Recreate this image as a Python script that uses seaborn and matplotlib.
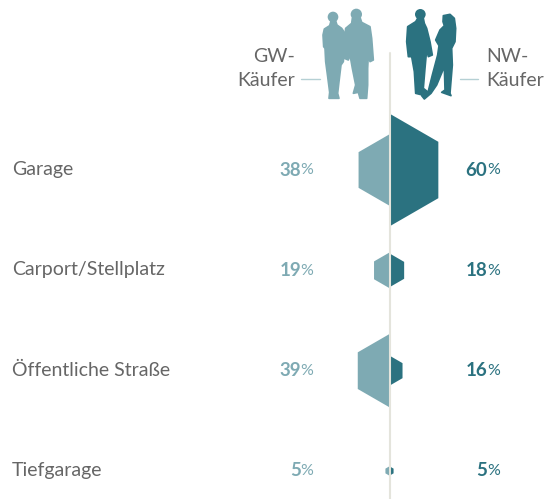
import matplotlib
matplotlib.use('Agg')
import numpy as np
import pandas as pd
import matplotlib.pyplot as plt
import seaborn as sns
from matplotlib.path import Path
from matplotlib.patches import Circle, Polygon
from matplotlib.transforms import Affine2D

# Data
places = ['Garage', 'Carport/Stellplatz', 'Öffentliche Straße', 'Tiefgarage']
gw_values = [38, 19, 39, 5]
nw_values = [60, 18, 16, 5]

GW_COLOR = '#7eaab3'
NW_COLOR = '#2b7280'
AXIS_COLOR = '#e4e4dc'
TEXT_COLOR = '#666666'
FONT = 'Lato'
LABEL_SIZE = 14.0

sns.set_theme(style='white')
plt.rcParams['font.family'] = [FONT, 'DejaVu Sans']

fig = plt.figure(figsize=(5.44, 4.99), dpi=100)
ax = fig.add_axes([0, 0, 1, 1])
ax.set_facecolor('white')

# pixel coordinates for the decoration and labels
px = Affine2D().scale(1 / 544, -1 / 499).translate(0, 1) + fig.transFigure

# half hexagons, pointing away from the centre line
right_half = Path([(0, -1), (0.866, -0.5), (0.866, 0.5), (0, 1), (0, -1)], closed=True)
left_half = Path([(0, -1), (-0.866, -0.5), (-0.866, 0.5), (0, 1), (0, -1)], closed=True)

df = pd.DataFrame({
    'place': places * 2,
    'row': list(range(len(places))) * 2,
    'side': ['GW'] * len(places) + ['NW'] * len(places),
    'value': gw_values + nw_values,
})
# hexagon height in points grows with the value, scatter wants area
df['area'] = (df['value'] * 1.88 * 0.72) ** 2

for side, marker, color in [('GW', left_half, GW_COLOR), ('NW', right_half, NW_COLOR)]:
    part = df[df['side'] == side]
    sns.scatterplot(data=part, x=np.zeros(len(part)), y='row', marker=marker,
                    s=part['area'].values, color=color, linewidth=0,
                    legend=False, ax=ax, zorder=3)

# centre at x=0 is pixel 389.5, rows are 100.33 px apart starting at 170
ax.set_xlim(-389.5, 544 - 389.5)
ax.set_ylim((499 - 170) / 100.33, -170 / 100.33)
ax.set_axis_off()

# centre line
ax.plot([389.5, 389.5], [53, 499], color=AXIS_COLOR, lw=1.5, transform=px, zorder=4)

for row, place in enumerate(places):
    y = 170 + row * 100.33
    ax.text(12, y - 0.5, place, transform=px, fontsize=LABEL_SIZE, color=TEXT_COLOR,
            ha='left', va='center')
    ax.text(301, y, str(gw_values[row]), transform=px, fontsize=13.5, color=GW_COLOR,
            ha='right', va='center', fontweight='bold')
    ax.text(300.5, y + 0.5, '%', transform=px, fontsize=11.5, color=GW_COLOR,
            ha='left', va='center')
    ax.text(487.5, y, str(nw_values[row]), transform=px, fontsize=13.5, color=NW_COLOR,
            ha='right', va='center', fontweight='bold')
    ax.text(487, y + 0.5, '%', transform=px, fontsize=11.5, color=NW_COLOR,
            ha='left', va='center')

# group headers
ax.text(295, 57, 'GW-', transform=px, fontsize=LABEL_SIZE, color=TEXT_COLOR, ha='right', va='center')
ax.text(295, 80, 'Käufer', transform=px, fontsize=LABEL_SIZE, color=TEXT_COLOR, ha='right', va='center')
ax.text(486, 57, 'NW-', transform=px, fontsize=LABEL_SIZE, color=TEXT_COLOR, ha='left', va='center')
ax.text(486, 80, 'Käufer', transform=px, fontsize=LABEL_SIZE, color=TEXT_COLOR, ha='left', va='center')
ax.plot([301, 320], [79, 79], color='#b5d0d4', lw=1, transform=px)
ax.plot([460, 478], [79, 79], color='#b5d0d4', lw=1, transform=px)


# silhouettes
def figure_shape(x0, y0, color, outline, head=None):
    pts = [(x0 + a / 3, y0 + b / 3) for a, b in outline]
    ax.add_patch(Polygon(pts, closed=True, fc=color, ec=color, lw=1.2, joinstyle='round', transform=px))
    if head:
        ax.add_patch(Circle((x0 + head[0] / 3, y0 + head[1] / 3), head[2] / 3,
                            fc=color, ec='none', transform=px))


figure_shape(315, 5, GW_COLOR,
             [(48, 48), (62, 48), (66, 60), (80, 70), (90, 85), (88, 130), (85, 170), (78, 180),
              (72, 230), (68, 265), (72, 280), (42, 280), (44, 262), (38, 215), (32, 170),
              (30, 130), (26, 125), (24, 90), (28, 72), (44, 62)], head=(54, 36, 16))
figure_shape(315, 5, GW_COLOR,
             [(112, 40), (136, 40), (140, 52), (165, 65), (170, 100), (175, 165), (165, 170),
              (160, 150), (158, 190), (158, 240), (155, 280), (135, 280), (130, 262), (115, 265),
              (122, 240), (112, 190), (105, 150), (100, 165), (88, 160), (85, 130), (92, 70),
              (110, 55)], head=(124, 28, 17))
figure_shape(395, 5, NW_COLOR,
             [(68, 40), (85, 40), (88, 55), (95, 70), (105, 110), (112, 150), (100, 155), (95, 135),
              (90, 190), (85, 250), (95, 258), (82, 270), (62, 265), (58, 200), (50, 155), (40, 155),
              (35, 110), (38, 65), (62, 50)], head=(76, 28, 16))
figure_shape(395, 5, NW_COLOR,
             [(145, 32), (165, 28), (178, 40), (182, 70), (180, 110), (170, 130), (172, 180),
              (165, 265), (168, 272), (140, 262), (150, 255), (148, 185), (125, 240), (108, 265),
              (88, 282), (80, 272), (100, 258), (112, 210), (128, 150), (132, 122), (122, 105),
              (135, 75), (148, 62), (144, 50)])

fig.savefig('out.png', dpi=100)
